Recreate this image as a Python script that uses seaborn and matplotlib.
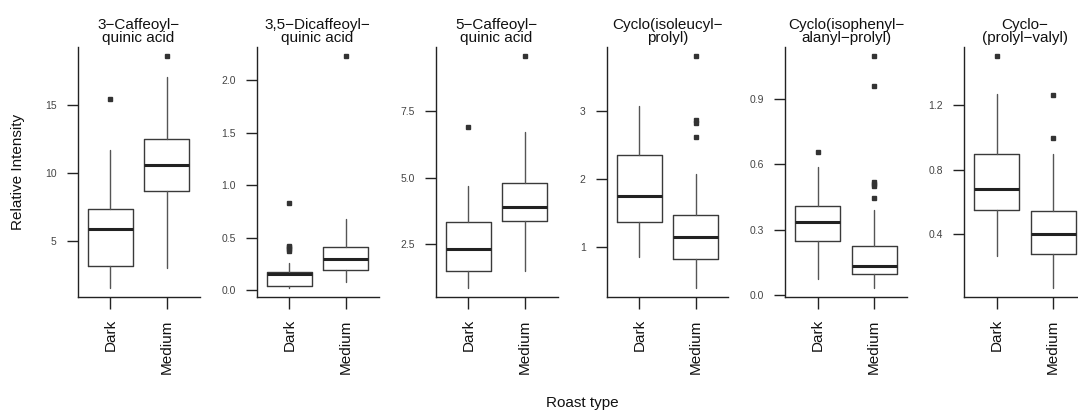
import matplotlib
matplotlib.use("Agg")
import matplotlib.pyplot as plt
import seaborn as sns
import numpy as np

# ---------------- data ----------------
compounds = ["3\u2212Caffeoyl\u2212\nquinic acid",
             "3,5\u2212Dicaffeoyl\u2212\nquinic acid",
             "5\u2212Caffeoyl\u2212\nquinic acid",
             "Cyclo(isoleucyl\u2212\nprolyl)",
             "Cyclo(isophenyl\u2212\nalanyl\u2212prolyl)",
             "Cyclo\u2212\n(prolyl\u2212valyl)"]
roast = ["Dark", "Medium"]

dark_whislo = [1.59, 0.022, 0.86, 0.86, 0.075, 0.267]
dark_q1     = [3.21, 0.039, 1.49, 1.38, 0.248, 0.552]
dark_med    = [5.90, 0.155, 2.32, 1.75, 0.338, 0.678]
dark_q3     = [7.36, 0.170, 3.33, 2.36, 0.410, 0.897]
dark_whishi = [11.69, 0.26, 4.69, 3.07, 0.587, 1.274]
dark_fliers = [[15.42], [0.37, 0.39, 0.41, 0.42, 0.83], [6.89], [], [0.655], [1.506]]

medium_whislo = [3.03, 0.08, 1.49, 0.41, 0.035, 0.067]
medium_q1     = [8.68, 0.19, 3.39, 0.83, 0.096, 0.274]
medium_med    = [10.62, 0.30, 3.90, 1.16, 0.136, 0.404]
medium_q3     = [12.54, 0.415, 4.81, 1.48, 0.225, 0.545]
medium_whishi = [17.04, 0.68, 6.72, 2.08, 0.393, 0.899]
medium_fliers = [[18.58], [2.23], [9.57], [2.62, 2.82, 2.86, 3.80],
                 [0.445, 0.50, 0.51, 0.52, 0.96, 1.095], [1.0, 1.263]]

yticks = [[5, 10, 15], [0.0, 0.5, 1.0, 1.5, 2.0], [2.5, 5.0, 7.5],
          [1, 2, 3], [0.0, 0.3, 0.6, 0.9], [0.4, 0.8, 1.2]]
yticklabels = [["5", "10", "15"], ["0.0", "0.5", "1.0", "1.5", "2.0"],
               ["2.5", "5.0", "7.5"], ["1", "2", "3"],
               ["0.0", "0.3", "0.6", "0.9"], ["0.4", "0.8", "1.2"]]

# ---------------- style ----------------
sns.set_style("ticks")
plt.rcParams["font.family"] = ["Liberation Sans", "DejaVu Sans"]

W, H = 1078, 412
fig = plt.figure(figsize=(W / 100, H / 100), dpi=100)

spine_x = [77.5, 256.5, 435.5, 606.5, 785, 964]
ax_w = 122
ax_top, ax_bot = 47, 297

for i, name in enumerate(compounds):
    ax = fig.add_axes([spine_x[i] / W, (H - ax_bot) / H, ax_w / W, (ax_bot - ax_top) / H])
    stats = [
        dict(whislo=dark_whislo[i], q1=dark_q1[i], med=dark_med[i], q3=dark_q3[i],
             whishi=dark_whishi[i], fliers=dark_fliers[i], label=roast[0]),
        dict(whislo=medium_whislo[i], q1=medium_q1[i], med=medium_med[i], q3=medium_q3[i],
             whishi=medium_whishi[i], fliers=medium_fliers[i], label=roast[1]),
    ]
    ax.bxp(stats, positions=[1, 2], widths=0.8, showcaps=False, patch_artist=False,
           boxprops=dict(color="#3a3a3a", linewidth=1.0),
           whiskerprops=dict(color="#555555", linewidth=1.0),
           medianprops=dict(color="#222222", linewidth=2.2),
           flierprops=dict(marker="s", markersize=3.2, markerfacecolor="#333333",
                           markeredgecolor="#333333", linestyle="none"))
    allv = [dark_whislo[i], dark_whishi[i], medium_whislo[i], medium_whishi[i]] + \
        list(dark_fliers[i]) + list(medium_fliers[i])
    lo, hi = min(allv), max(allv)
    ext = 0.04 * (hi - lo)
    ax.set_ylim(lo - ext, hi + ext)
    ax.set_xlim(0.42, 2.58)
    ax.set_yticks(yticks[i])
    ax.set_yticklabels(yticklabels[i], fontsize=7.5, color="#444444")
    ax.set_xticks([1, 2])
    ax.set_xticklabels(roast, rotation=90, fontsize=11, color="#111111")
    ax.tick_params(axis="y", length=8, width=1.0, pad=7, color="#222222")
    ax.tick_params(axis="x", length=8.5, width=1.0, pad=7.5, color="#222222")
    sns.despine(ax=ax)
    for s in ["left", "bottom"]:
        ax.spines[s].set_linewidth(1.0)
        ax.spines[s].set_color("#222222")
    ax.set_title(name, fontsize=11, pad=3.5, linespacing=0.95, color="#111111")
    ax.set_facecolor("white")

fig.text(18 / W, 1 - 172 / H, "Relative Intensity", rotation=90, ha="center",
         va="center", fontsize=11, color="#111111")
fig.text(582 / W, 1 - 403 / H, "Roast type", ha="center", va="center",
         fontsize=11, color="#111111")

fig.savefig("out.png", dpi=100, facecolor="white")
